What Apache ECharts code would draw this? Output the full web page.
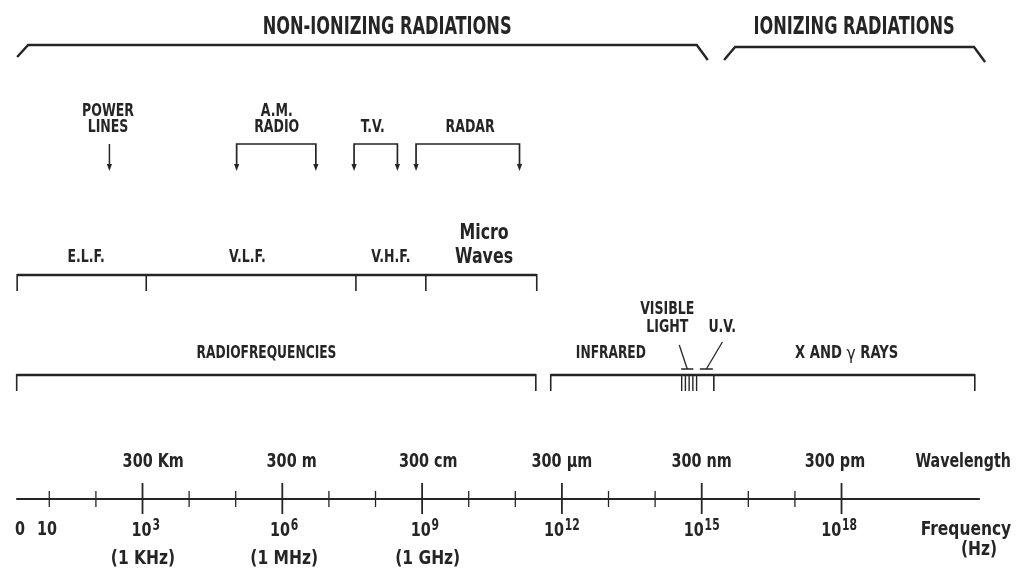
<!DOCTYPE html>
<html><head><meta charset="utf-8">
<script src="https://cdn.jsdelivr.net/npm/echarts@6/dist/echarts.min.js"></script>
<style>html,body{margin:0;padding:0;background:#fff}#c{width:1020px;height:573px}</style>
</head><body><div id="c"></div>
<script>
// ===== DATA (x values are log10 of frequency in Hz) =====
const regionNames = ['NON-IONIZING RADIATIONS', 'IONIZING RADIATIONS'];
const regionStart = [0.31, 15.48];
const regionEnd = [15.13, 21.08];
const regionLabelAt = [8.25, 18.27];

const appNames = ['POWER\nLINES', 'A.M.\nRADIO', 'T.V.', 'RADAR'];
const appLow = [2.29, 5.02, 7.54, 8.87];
const appHigh = [2.29, 6.72, 8.47, 11.09];
const appLabelAt = [2.26, 5.88, 7.94, 10.03];

const bandNames = ['E.L.F.', 'V.L.F.', 'V.H.F.', 'Micro\nWaves'];
const bandEdges = [0.31, 3.08, 7.58, 9.08, 11.46];
const bandLabelAt = [1.79, 5.25, 8.33, 10.33];

const groupNames = ['RADIOFREQUENCIES', 'INFRARED', 'X AND {g|\u03b3} RAYS'];
const groupLabelAt = [5.66, 13.05, 18.11];
const radioRange = [0.30, 11.44];
const opticalRange = [11.76, 20.86];

const visibleLines = [14.57, 14.65, 14.73, 14.81, 14.89];
const visibleBar = [14.56, 14.82];
const uvBar = [14.96, 15.24];
const uvEdge = 15.26;
const calloutNames = ['VISIBLE\nLIGHT', 'U.V.'];
const calloutLabelAt = [14.26, 15.44];

const axisRange = [0.29, 20.97];
const freqTickExps = [1, 2, 3, 4, 5, 6, 7, 8, 9, 10, 11, 12, 13, 14, 15, 16, 17, 18];
const freqMajorExps = [3, 6, 9, 12, 15, 18];
const wavelengthLabels = ['300 Km', '300 m', '300 cm', '300 \u03bcm', '300 nm', '300 pm'];
const wavelengthLabelAt = [3.23, 6.2, 9.13, 12.0, 15.0, 17.86];
const freqBase = ['0', '10', '10', '10', '10', '10', '10', '10'];
const freqPower = ['', '', '3', '6', '9', '12', '15', '18'];
const freqLabelAt = [0.37, 0.95, 3.07, 6.04, 9.06, 12.0, 15.0, 17.95];
const unitLabels = ['(1 KHz)', '(1 MHz)', '(1 GHz)'];
const unitLabelAt = [3.01, 6.04, 9.12];
const axisTitles = ['Wavelength', 'Frequency', '(Hz)'];
const axisTitleAt = [20.61, 20.67, 20.95];

// ===== LAYOUT (rows, in page pixels on the hidden y axis) =====
const Y = {
  regionLabel: 28, brace: [45, 47], braceDrop: [[12, 15], [13, 15]], braceSlant: 11,
  appLabelBottom: 136, appTop: 144, appBottom: 171,
  bandLabelBottom: 266, microBottom: 269, bandLine: 275, bandTick: 291,
  calloutBottom: 337, barY: 369, groupLabel: 354, groupLine: 375, groupTick: 391,
  waveLabel: 462, axis: 499, minor: 8, majorUp: 16, majorDown: 15,
  freqLabel: 530, unitLabel: 559, titleY: [462, 530, 550]
};
const INK = '#252525';
const FAM = '"DejaVu Sans Condensed","Liberation Sans Narrow",sans-serif';
const SX = 0.82;

function txt(p, text, size, o) {
  o = o || {};
  const st = {
    text: text, x: 0, y: 0, fill: INK,
    fontSize: size, fontFamily: FAM, fontWeight: o.weight || 'bold',
    align: o.align || 'center', verticalAlign: o.va || 'middle',
    lineHeight: o.lh || size
  };
  if (o.rich) st.rich = o.rich;
  return { type: 'text', x: p[0], y: p[1], scaleX: o.sx || SX, style: st };
}
function seg(a, b, w) {
  return { type: 'line', shape: { x1: a[0], y1: a[1], x2: b[0], y2: b[1] },
    style: { stroke: INK, lineWidth: w || 2, lineCap: 'butt' } };
}
function arrowHead(p) {
  return { type: 'polygon', shape: { points: [[p[0] - 2.6, p[1] - 7], [p[0] + 2.6, p[1] - 7], [p[0], p[1]]] },
    style: { fill: INK } };
}
function custom(data, render) {
  return { type: 'custom', coordinateSystem: 'cartesian2d', data: data, renderItem: render, silent: true, clip: false };
}
function textSeries(pos, texts, yFn, size, opt) {
  return custom(pos.map(v => [v]), function (params, api) {
    const i = params.dataIndex;
    const p = api.coord([api.value(0), yFn(i)]);
    return txt(p, texts[i], typeof size === 'function' ? size(i) : size, typeof opt === 'function' ? opt(i) : opt);
  });
}

const series = [];

// Braces for radiation regions
series.push(custom(regionStart.map((s, i) => [s, regionEnd[i]]), function (params, api) {
  const i = params.dataIndex, by = Y.brace[i];
  const a = api.coord([api.value(0), by]);
  const b = api.coord([api.value(1), by]);
  const d = Y.braceDrop[i], s = Y.braceSlant;
  return { type: 'polyline',
    shape: { points: [[a[0], a[1] + d[0]], [a[0] + s, a[1]], [b[0] - s, b[1]], [b[0], b[1] + d[1]]] },
    style: { stroke: INK, lineWidth: 2.4, fill: null } };
}));
series.push(textSeries(regionLabelAt, regionNames, () => Y.regionLabel, 24, { sx: 0.75 }));

// Applications (arrows / brackets)
series.push(custom(appLow.map((lo, i) => [lo, appHigh[i]]), function (params, api) {
  const lo = api.coord([api.value(0), Y.appTop]);
  const hi = api.coord([api.value(1), Y.appTop]);
  const loB = api.coord([api.value(0), Y.appBottom]);
  const hiB = api.coord([api.value(1), Y.appBottom]);
  const ch = [];
  if (Math.abs(hi[0] - lo[0]) < 1) {
    ch.push(seg(lo, [loB[0], loB[1] - 5], 1.5), arrowHead(loB));
  } else {
    ch.push({ type: 'polyline', shape: { points: [[loB[0], loB[1] - 5], lo, hi, [hiB[0], hiB[1] - 5]] },
      style: { stroke: INK, lineWidth: 1.7, fill: null } });
    ch.push(arrowHead(loB), arrowHead(hiB));
  }
  return { type: 'group', children: ch };
}));
series.push(textSeries(appLabelAt, appNames, () => Y.appLabelBottom, 17, { va: 'bottom', lh: 16 }));

// Frequency bands (ELF ... Microwaves)
series.push(custom(bandEdges.map(e => [e]), function (params, api) {
  const ch = [];
  const t = api.coord([api.value(0), Y.bandLine]);
  const tb = api.coord([api.value(0), Y.bandTick]);
  ch.push(seg([t[0], t[1] - 1], tb, 1.6));
  if (params.dataIndex === 0) {
    const end = api.coord([bandEdges[bandEdges.length - 1], Y.bandLine]);
    ch.push(seg(t, end, 2.4));
  }
  return { type: 'group', children: ch };
}));
series.push(textSeries(bandLabelAt, bandNames, i => (i === 3 ? Y.microBottom : Y.bandLabelBottom),
  i => (i === 3 ? 22 : 17), i => (i === 3 ? { va: 'bottom', lh: 24, sx: 0.8 } : { va: 'bottom', lh: 16 })));

// Radiofrequencies / optical groups
series.push(custom([radioRange, opticalRange], function (params, api) {
  const a = api.coord([api.value(0), Y.groupLine]);
  const b = api.coord([api.value(1), Y.groupLine]);
  const ab = api.coord([api.value(0), Y.groupTick]);
  const bb = api.coord([api.value(1), Y.groupTick]);
  return { type: 'group', children: [seg(a, b, 2.4), seg([a[0], a[1] - 1], ab, 1.6), seg([b[0], b[1] - 1], bb, 1.6)] };
}));
series.push(textSeries(groupLabelAt, groupNames, () => Y.groupLabel, 17,
  i => ({ sx: i === 2 ? 0.86 : 0.8, rich: { g: { fontSize: 18, fontWeight: 'normal', fontFamily: '"DejaVu Sans",sans-serif', fill: INK } } })));

// Visible light lines and UV edge
series.push(custom(visibleLines.map(e => [e]), function (params, api) {
  const a = api.coord([api.value(0), Y.groupLine + 1]);
  const b = api.coord([api.value(0), Y.groupTick]);
  return seg(a, b, 1.4);
}));
series.push(custom([[uvEdge]], function (params, api) {
  const a = api.coord([api.value(0), Y.groupLine]);
  const b = api.coord([api.value(0), Y.groupTick]);
  return seg(a, b, 1.6);
}));
// callout bars with leaders
series.push(custom([visibleBar, uvBar], function (params, api) {
  const i = params.dataIndex;
  const a = api.coord([api.value(0), Y.barY]);
  const b = api.coord([api.value(1), Y.barY]);
  const mid = (a[0] + b[0]) / 2;
  const lead = i === 0 ? [mid - 8, a[1] - 24] : [mid + 16, a[1] - 27];
  return { type: 'group', children: [seg(a, b, 1.5), seg([mid, a[1]], lead, 1.3)] };
}));
series.push(textSeries(calloutLabelAt, calloutNames, () => Y.calloutBottom, 17, { va: 'bottom', lh: 18 }));

// Frequency axis line and ticks
series.push(custom([axisRange], function (params, api) {
  const a = api.coord([api.value(0), Y.axis]);
  const b = api.coord([api.value(1), Y.axis]);
  return seg(a, b, 2);
}));
series.push(custom(freqTickExps.map(e => [e]), function (params, api) {
  const e = api.value(0);
  const p = api.coord([e, Y.axis]);
  const major = freqMajorExps.indexOf(e) >= 0;
  const up = major ? Y.majorUp : Y.minor, dn = major ? Y.majorDown : Y.minor;
  return seg([p[0], p[1] - up], [p[0], p[1] + dn], major ? 1.8 : 1.3);
}));

// Axis labels
series.push(textSeries(wavelengthLabelAt, wavelengthLabels, () => Y.waveLabel, 20, { sx: 0.8 }));
series.push(textSeries(freqLabelAt, freqBase.map((b, i) => freqPower[i] ? '{b|' + b + '}{s|' + freqPower[i] + '}' : b),
  () => Y.freqLabel, 20, {
    sx: 0.8,
    rich: {
      b: { fontSize: 20, fontWeight: 'bold', fontFamily: FAM, fill: INK, lineHeight: 22, verticalAlign: 'bottom' },
      s: { fontSize: 15, fontWeight: 'bold', fontFamily: FAM, fill: INK, lineHeight: 22, verticalAlign: 'top', padding: [0, 0, 0, 1] }
    }
  }));
series.push(textSeries(unitLabelAt, unitLabels, () => Y.unitLabel, 20, { sx: 0.86 }));
series.push(textSeries(axisTitleAt, axisTitles, i => Y.titleY[i], 20, i => ({ sx: i === 0 ? 0.79 : 0.86 })));

const chart = echarts.init(document.getElementById('c'), null, { renderer: 'canvas' });
chart.setOption({
  animation: false,
  backgroundColor: '#ffffff',
  grid: { left: 0, right: 0, top: 0, bottom: 0 },
  xAxis: { type: 'value', min: -0.058, max: 21.83, show: false },
  yAxis: { type: 'value', min: 0, max: 573, inverse: true, show: false },
  series: series
});
</script></body></html>
